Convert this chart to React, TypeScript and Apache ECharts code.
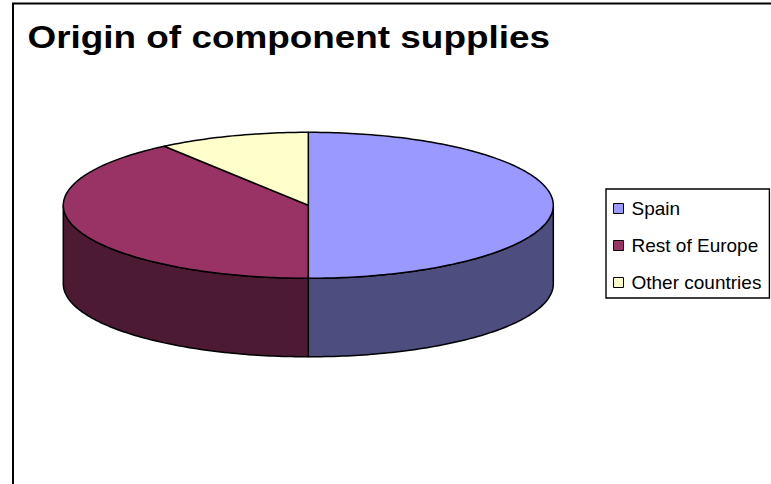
import React, { useEffect, useRef } from "react";
import * as echarts from "echarts";

const categories = ["Spain", "Rest of Europe", "Other countries"];
const values = [50, 40, 10];
const topColors = ["#9999FF", "#993366", "#FFFFCC"];
const sideColors = ["#4D4D80", "#4D1A33", "#808066"];

const CX = 308.3;
const CY = 205.3;
const RX = 245;
const RY = 73;
const DEPTH = 78.5;

function arcPoints(a0: number, a1: number, dy: number): number[][] {
  const n = Math.max(2, Math.ceil(((a1 - a0) * 180) / Math.PI));
  const pts: number[][] = [];
  for (let k = 0; k <= n; k++) {
    const t = a0 + ((a1 - a0) * k) / n;
    pts.push([CX + RX * Math.sin(t), CY - RY * Math.cos(t) + dy]);
  }
  return pts;
}

function makeRender(i: number) {
  return (params: any, api: any) => {
    const total = values.reduce((s, v) => s + v, 0);
    let before = 0;
    for (let k = 0; k < i; k++) before += values[k];
    const v = api.value(0);
    const a0 = (before / total) * Math.PI * 2;
    const a1 = ((before + v) / total) * Math.PI * 2;
    const children: any[] = [];
    const b0 = Math.max(a0, Math.PI / 2);
    const b1 = Math.min(a1, (Math.PI * 3) / 2);
    if (b1 > b0) {
      const topArc = arcPoints(b0, b1, 0);
      const botArc = arcPoints(b0, b1, DEPTH).reverse();
      children.push({
        type: "polygon",
        shape: { points: topArc.concat(botArc) },
        style: { fill: sideColors[i], stroke: "#000", lineWidth: 1.5, lineJoin: "round" },
      });
    }
    children.push({
      type: "polygon",
      shape: { points: [[CX, CY]].concat(arcPoints(a0, a1, 0)) },
      style: { fill: topColors[i], stroke: "#000", lineWidth: 1.5, lineJoin: "round" },
    });
    return { type: "group", children };
  };
}

export default function App() {
  const ref = useRef<HTMLDivElement>(null);
  useEffect(() => {
    if (!ref.current) return;
    const chart = echarts.init(ref.current, undefined, { renderer: "svg" });
    chart.setOption({
      animation: false,
      backgroundColor: "#ffffff",
      legend: {
        orient: "vertical",
        left: 606,
        top: 189,
        data: categories,
        icon: "rect",
        itemWidth: 10,
        itemHeight: 10,
        itemGap: 18,
        padding: [10, 8, 6, 7],
        borderColor: "#000",
        borderWidth: 1.4,
        itemStyle: { borderColor: "#000", borderWidth: 1 },
        textStyle: {
          fontFamily: "'Liberation Sans', Arial, sans-serif",
          fontSize: 19,
          color: "#000",
          padding: [0, 0, 0, 3],
        },
        selectedMode: false,
      },
      graphic: [
        {
          type: "rect",
          shape: { x: 13, y: 3.5, width: 780, height: 600 },
          style: { fill: "none", stroke: "#000", lineWidth: 2 },
          silent: true,
        },
        {
          type: "text",
          x: 27.5,
          y: 37,
          scaleX: 1.19,
          style: {
            text: "Origin of component supplies",
            font: "bold 31px 'Liberation Sans', Arial, sans-serif",
            fill: "#000",
            verticalAlign: "middle",
          },
        },
      ],
      series: categories.map((name, i) => ({
        type: "custom",
        name,
        coordinateSystem: "none",
        silent: true,
        itemStyle: { color: topColors[i] },
        data: [values[i]],
        renderItem: makeRender(i),
      })),
    });
    return () => chart.dispose();
  }, []);
  return (
    <div
      ref={ref}
      style={{ position: "absolute", left: 0, top: 0, width: 771, height: 484 }}
    />
  );
}
